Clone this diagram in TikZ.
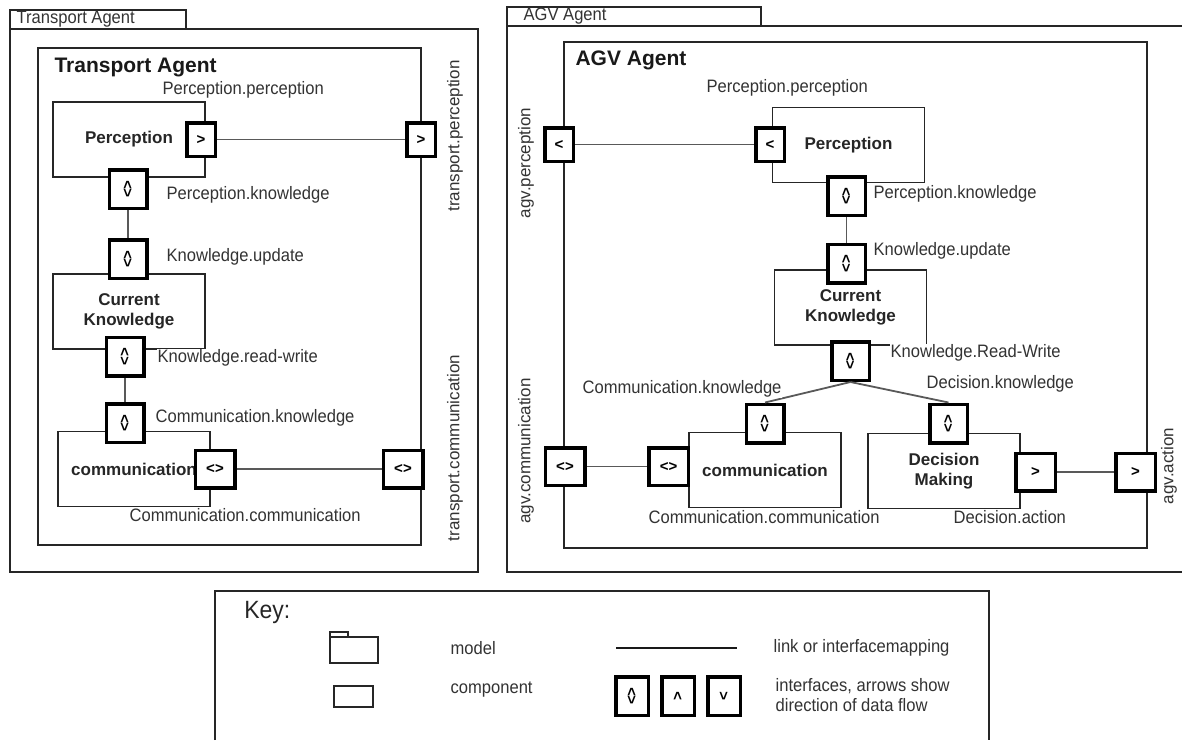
\documentclass[tikz,border=0pt]{standalone}
\usepackage{fontspec}
\setmainfont{Liberation Sans}
\usepackage{tikz}
\usepackage{graphicx}

\newcommand{\updn}{\rotatebox{90}{<>}}
\newcommand{\upc}{\rotatebox{90}{>}}
\newcommand{\dnc}{\rotatebox{90}{<}}

\begin{document}
\begin{tikzpicture}[x=1pt, y=-1pt,
  box/.style={draw=black!85, line width=1.3pt},
  comp/.style={draw=black!85, line width=1.2pt, fill=white, minimum width=152, minimum height=75,
    align=center, text=black!85, font=\fontsize{17}{20}\selectfont\bfseries},
  port/.style={draw=black, line width=3.5pt, fill=white, inner sep=0pt, font=\fontsize{15}{15}\selectfont\bfseries},
  porth/.style={port, minimum width=28.5, minimum height=33.5},
  portv/.style={port, minimum width=37.5, minimum height=38.5},
  portb/.style={port, minimum width=39.5, minimum height=37.5},
  portk/.style={port, minimum width=32.5, minimum height=38.5},
  lbl/.style={anchor=west, inner sep=0.5pt, fill=white, xscale=0.92, text=black!80, font=\fontsize{18}{19.5}\selectfont},
  vlbl/.style={rotate=90, inner sep=0.5pt, text=black!80, font=\fontsize{17}{19}\selectfont},
  link/.style={draw=black!65, line width=1.8pt}]
\useasboundingbox (0,0) rectangle (1182,740);

\draw[box] (10,10) rectangle (186,29);
\draw[box] (10,29) rectangle (478,572);
\node[lbl, fill=none] (tpTab) at (16,19) {Transport Agent};
\draw[box] (38,48) rectangle (421,545);
\node[anchor=west, text=black!90, font=\fontsize{21}{22}\selectfont\bfseries] (tpTitle) at (51,67) {Transport Agent};

\node[comp] (tpPerc) at (129,139.5) {Perception};
\node[comp] (tpKnow) at (129,311.5) {Current\\Knowledge};
\node[comp] (tpComm) at (134,469) {communication};

\node[porth] (tpPercOut) at (201,139.5) {>};
\node[porth] (tpPercPort) at (421,139.5) {>};
\node[portv] (tpPercKn) at (128,189) {\updn};
\node[portv] (tpKnUpd) at (128,259) {\updn};
\node[portv] (tpKnRW) at (125,356.5) {\updn};
\node[portv] (tpComKn) at (125,423) {\updn};
\node[portb] (tpComCom) at (215,469) {<>};
\node[portb] (tpComPort) at (403,469) {<>};

\draw[link] (tpPercOut) -- (tpPercPort);
\draw[link] (tpPercKn) -- (tpKnUpd);
\draw[link] (tpKnRW) -- (tpComKn);
\draw[link] (tpComCom) -- (tpComPort);

\node[lbl] (tpPercPercL) at (162,90) {Perception.perception};
\node[lbl] (tpPercKnL) at (166,195) {Perception.knowledge};
\node[lbl] (tpKnUpdL) at (166,257) {Knowledge.update};
\node[lbl] (tpKnRWL) at (157,358) {Knowledge.read-write};
\node[lbl] (tpComKnL) at (155,418) {Communication.knowledge};
\node[lbl] (tpComComL) at (129,515) {Communication.communication};
\node[vlbl] (tpPercPortL) at (455,136) {transport.perception};
\node[vlbl] (tpComPortL) at (455,448) {transport.communication};

\draw[box] (507,26) -- (507,7) -- (761,7) -- (761,26);
\draw[box] (1182,26) -- (507,26) -- (507,572) -- (1182,572);
\node[lbl, fill=none] (agvTab) at (523,16) {AGV Agent};
\draw[box] (564,42) rectangle (1147,548);
\node[anchor=west, text=black!90, font=\fontsize{21}{22}\selectfont\bfseries] (agvTitle) at (572,60) {AGV Agent};

\node[comp] (agvPerc) at (848.5,145) {Perception};
\node[comp] (agvKnow) at (850.5,307.5) {Current\\Knowledge};
\node[comp] (agvComm) at (765,470) {communication};
\node[comp] (agvDec) at (944,471) {Decision\\Making};

\node[porth] (agvPercPort) at (559,144.5) {<};
\node[porth] (agvPercIn) at (770,144.5) {<};
\node[portv] (agvPercKn) at (846.5,196) {\updn};
\node[portv] (agvKnUpd) at (846.5,263.5) {\updn};
\node[portv] (agvKnRW) at (850.5,361) {\updn};
\node[portv] (agvComKn) at (765,423.5) {\updn};
\node[portv] (agvDecKn) at (948.5,423.5) {\updn};
\node[portb] (agvComCom) at (668.5,466.5) {<>};
\node[portb] (agvComPort) at (565,466.5) {<>};
\node[portb] (agvDecAct) at (1035.5,472) {>};
\node[portb] (agvActPort) at (1135.5,472) {>};

\draw[link] (agvPercPort) -- (agvPercIn);
\draw[link] (agvPercKn) -- (agvKnUpd);
\draw[link] (agvKnRW.south) -- (agvComKn.north);
\draw[link] (agvKnRW.south) -- (agvDecKn.north);
\draw[link] (agvComPort) -- (agvComCom);
\draw[link] (agvDecAct) -- (agvActPort);

\node[lbl] (agvPercPercL) at (706,88) {Perception.perception};
\node[lbl] (agvPercKnL) at (873,194) {Perception.knowledge};
\node[lbl] (agvKnUpdL) at (873,251) {Knowledge.update};
\node[lbl] (agvKnRWL) at (890,353) {Knowledge.Read-Write};
\node[lbl] (agvComKnL) at (582,389) {Communication.knowledge};
\node[lbl] (agvDecKnL) at (926,384) {Decision.knowledge};
\node[lbl] (agvComComL) at (648,517) {Communication.communication};
\node[lbl] (agvDecActL) at (953,517) {Decision.action};
\node[vlbl] (agvPercPortL) at (526,163) {agv.perception};
\node[vlbl] (agvComPortL) at (526,451) {agv.communication};
\node[vlbl] (agvActPortL) at (1169,466) {agv.action};

\draw[box] (215,740) -- (215,591) -- (989,591) -- (989,740);
\node[anchor=west, text=black!85, font=\fontsize{25}{26}\selectfont, xscale=0.92] (keyTitle) at (241,612) {Key:};
\draw[box, line width=1.2pt] (330,637) rectangle (378,663);
\draw[box, line width=1.2pt] (330,637) -- (330,632) -- (348,632) -- (348,637);
\draw[box, line width=1.2pt] (334,686) rectangle (373,707);
\node[lbl] (keyModel) at (450,648) {model};
\node[lbl] (keyComp) at (450,690) {component};
\coordinate (keyLinkA) at (616,648);
\coordinate (keyLinkB) at (737,648);
\draw[link, draw=black!90, line width=1.5pt] (keyLinkA) -- (keyLinkB);
\node[lbl] (keyLink) at (773,648) {link or interfacemapping};
\node[portk] (keyBoth) at (632,696) {\updn};
\node[portk] (keyUp) at (678,696) {\upc};
\node[portk] (keyDown) at (724,696) {\dnc};
\node[lbl, align=left] (keyIface) at (775,695) {interfaces, arrows show\\direction of data flow};
\end{tikzpicture}
\end{document}
